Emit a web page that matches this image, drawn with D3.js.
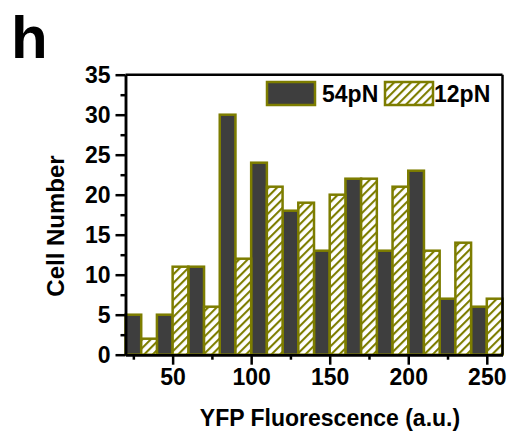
<!DOCTYPE html>
<html>
<head>
<meta charset="utf-8">
<script src="https://cdn.jsdelivr.net/npm/d3@7"></script>
<style>
    body { margin: 0; background: #fff; }
    text { font-family: "Liberation Sans", Arial, sans-serif; font-weight: bold; fill: #000; }
</style>
</head>
<body>
<svg id="chart"></svg>
<script>
// bin start (a.u.) and cell counts for each force
const bins54 = [20, 40, 60, 80, 100, 120, 140, 160, 180, 200, 220, 240];
const counts54 = [5, 5, 11, 30, 24, 18, 13, 22, 13, 23, 7, 6];
const bins12 = [30, 50, 70, 90, 110, 130, 150, 170, 190, 210, 230, 250];
const counts12 = [2, 11, 6, 12, 21, 19, 20, 22, 21, 13, 14, 7];
const binWidth = 10;
const seriesNames = ['54pN', '12pN'];
const xTicks = [50, 100, 150, 200, 250];
const xMinorTicks = [25, 75, 125, 175, 225];
const yTicks = [0, 5, 10, 15, 20, 25, 30, 35];
const yMinorTicks = [2.5, 7.5, 12.5, 17.5, 22.5, 27.5, 32.5];

const olive = '#7d7d00';
const darkFill = '#3e3e3e';

const width = 512, height = 433;
const margin = {top: 74.7, right: 9.5, bottom: 78.3, left: 125.5};
const innerW = width - margin.left - margin.right;
const innerH = height - margin.top - margin.bottom;

const svg = d3.select('#chart')
    .attr('width', width)
    .attr('height', height);

const defs = svg.append('defs');
const pattern = defs.append('pattern')
    .attr('id', 'hatch')
    .attr('patternUnits', 'userSpaceOnUse')
    .attr('width', 6)
    .attr('height', 6)
    .attr('patternTransform', 'rotate(45)');
pattern.append('rect')
    .attr('width', 6).attr('height', 6).attr('fill', '#fff');
pattern.append('line')
    .attr('x1', 0).attr('y1', 0).attr('x2', 0).attr('y2', 6)
    .attr('stroke', olive).attr('stroke-width', 4.2);

svg.append('text')
    .attr('x', 11)
    .attr('y', 58)
    .style('font-size', '60px')
    .text('h');

const g = svg.append('g')
    .attr('transform', `translate(${margin.left}, ${margin.top})`);

const xScale = d3.scaleLinear().domain([20, 260]).range([0, innerW]);
const yScale = d3.scaleLinear().domain([0, 35]).range([innerH, 0]);

const data54 = bins54.map((b, i) => ({x: b, v: counts54[i]}));
const data12 = bins12.map((b, i) => ({x: b, v: counts12[i]}));

g.selectAll('.bar54')
    .data(data54)
    .enter()
    .append('rect')
    .attr('class', 'bar54')
    .attr('x', d => xScale(d.x))
    .attr('width', d => xScale(d.x + binWidth) - xScale(d.x))
    .attr('y', d => yScale(d.v))
    .attr('height', d => innerH - yScale(d.v))
    .attr('fill', darkFill)
    .attr('stroke', olive)
    .attr('stroke-width', 2.5);

g.selectAll('.bar12')
    .data(data12)
    .enter()
    .append('rect')
    .attr('class', 'bar12')
    .attr('x', d => xScale(d.x))
    .attr('width', d => xScale(d.x + binWidth) - xScale(d.x))
    .attr('y', d => yScale(d.v))
    .attr('height', d => innerH - yScale(d.v))
    .attr('fill', 'url(#hatch)')
    .attr('stroke', olive)
    .attr('stroke-width', 2.5);

// frame top and right
g.append('line')
    .attr('x1', 0).attr('x2', innerW).attr('y1', 0).attr('y2', 0)
    .attr('stroke', '#000').attr('stroke-width', 2.5);
g.append('line')
    .attr('x1', innerW).attr('x2', innerW).attr('y1', 0).attr('y2', innerH)
    .attr('stroke', '#000').attr('stroke-width', 2.5);

const xAxis = d3.axisBottom(xScale).tickValues(xTicks).tickSize(10).tickPadding(4).tickSizeOuter(0);
const xMinor = d3.axisBottom(xScale).tickValues(xMinorTicks).tickSize(5).tickFormat('').tickSizeOuter(0);
const yAxis = d3.axisLeft(yScale).tickValues(yTicks).tickSize(10).tickPadding(5).tickSizeOuter(0);
const yMinor = d3.axisLeft(yScale).tickValues(yMinorTicks).tickSize(5).tickFormat('').tickSizeOuter(0);

const xg = g.append('g').attr('transform', `translate(0, ${innerH})`).call(xAxis);
g.append('g').attr('transform', `translate(0, ${innerH})`).call(xMinor);
const yg = g.append('g').call(yAxis);
g.append('g').call(yMinor);

g.selectAll('.domain').attr('stroke', '#000').attr('stroke-width', 2.5);
g.selectAll('.tick line').attr('stroke', '#000').attr('stroke-width', 2.5);
g.selectAll('.tick text')
    .style('font-family', '"Liberation Sans", Arial, sans-serif')
    .style('font-weight', 'bold')
    .style('font-size', '23px')
    .attr('fill', '#000');

svg.append('text')
    .attr('x', 330)
    .attr('y', 426)
    .attr('text-anchor', 'middle')
    .style('font-size', '23px')
    .text('YFP Fluorescence (a.u.)');

svg.append('text')
    .attr('transform', 'translate(64, 226) rotate(-90)')
    .attr('text-anchor', 'middle')
    .style('font-size', '24px')
    .text('Cell Number');

// legend
const legendItems = [
    {name: seriesNames[0], fill: darkFill, x: 267, tx: 322},
    {name: seriesNames[1], fill: 'url(#hatch)', x: 385, tx: 434}
];
const legend = svg.append('g');
legendItems.forEach(item => {
    legend.append('rect')
        .attr('x', item.x)
        .attr('y', 82)
        .attr('width', 48)
        .attr('height', 23)
        .attr('fill', item.fill)
        .attr('stroke', olive)
        .attr('stroke-width', 2.5);
    legend.append('text')
        .attr('x', item.tx)
        .attr('y', 102)
        .style('font-size', '23px')
        .text(item.name);
});
</script>
</body>
</html>
